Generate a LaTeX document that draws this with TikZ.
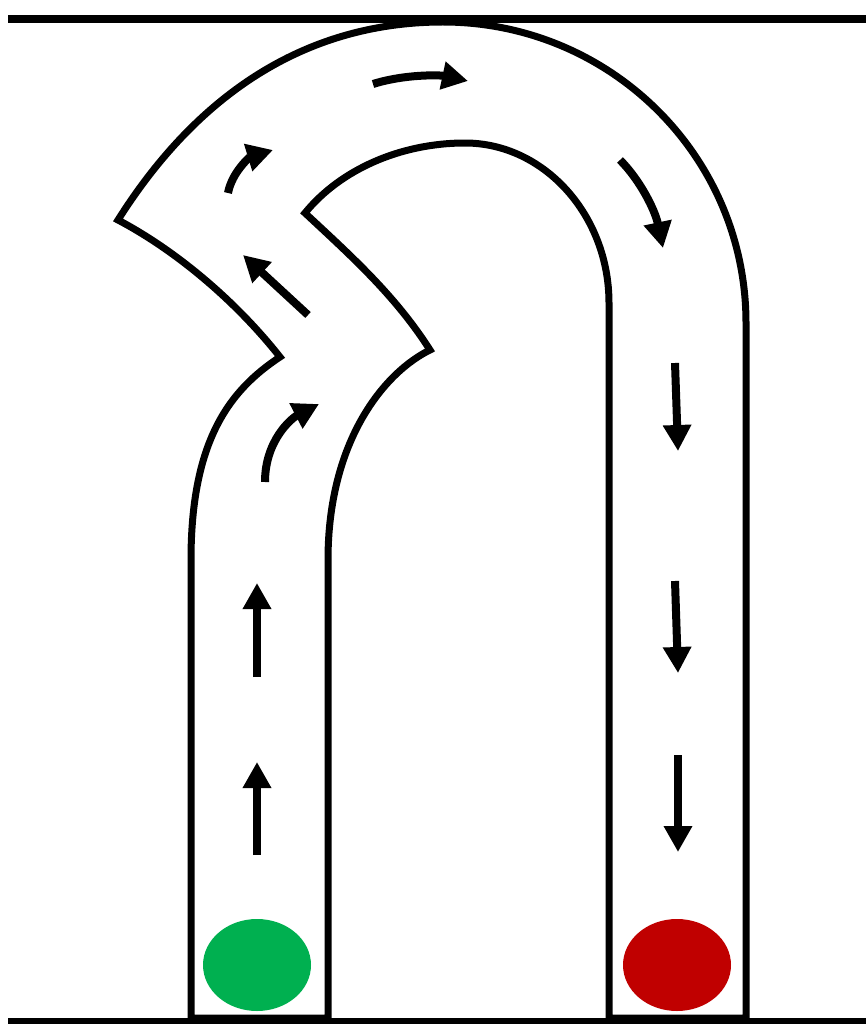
\documentclass[tikz,border=0pt]{standalone}
\usetikzlibrary{arrows.meta}
\definecolor{gogreen}{HTML}{00B050}
\definecolor{stopred}{HTML}{C00000}
\tikzset{
  wall/.style={line width=0.14cm, line join=miter, black},
  edge/.style={line width=0.16cm, black},
  flow/.style={line width=0.16cm, black, -{Triangle[length=0.52cm,width=0.54cm]}},
  light/.style={draw=none}
}
\begin{document}
\begin{tikzpicture}[x=0.02cm,y=-0.02cm]
\useasboundingbox (0,0) rectangle (866,1024);
% horizontal edges
\draw[edge] (8,19.5) -- (866,19.5);
\draw[edge] (8,1022) -- (866,1022);
% road outline
\draw[wall] (191,1018) -- (191,560)
  .. controls (191,440) and (230,390) .. (280,357)
  .. controls (235,300) and (175,250) .. (118,220)
  .. controls (200,90) and (310,22) .. (443,22)
  .. controls (610,22) and (746,156) .. (746,323)
  -- (746,1018) -- (609,1018) -- (609,303)
  .. controls (609,215) and (544,143) .. (465,143)
  .. controls (400,143) and (340,170) .. (305,213)
  .. controls (350,255) and (395,295) .. (430,350)
  .. controls (385,372) and (328,440) .. (328,560)
  -- (328,1018) -- cycle;
% lights
\fill[gogreen] (257,965) ellipse [x radius=54, y radius=46];
\fill[stopred] (677,965) ellipse [x radius=54, y radius=46];
% arrows
\draw[flow] (257,855) -- (257,762);
\draw[flow] (257,677) -- (257,583);
\draw[flow] (265,482) .. controls (265,440) and (292,418) .. (319,404);
\draw[flow] (308,315) -- (243,255);
\draw[flow] (228,193) .. controls (232,172) and (250,157) .. (273,150);
\draw[flow] (373,84) .. controls (405,74) and (440,75) .. (468,81);
\draw[flow] (620,160) .. controls (640,180) and (655,210) .. (663,248);
\draw[flow] (675,363) -- (678,451);
\draw[flow] (675,581) -- (678,673);
\draw[flow] (678,755) -- (678,852);
\end{tikzpicture}
\end{document}
